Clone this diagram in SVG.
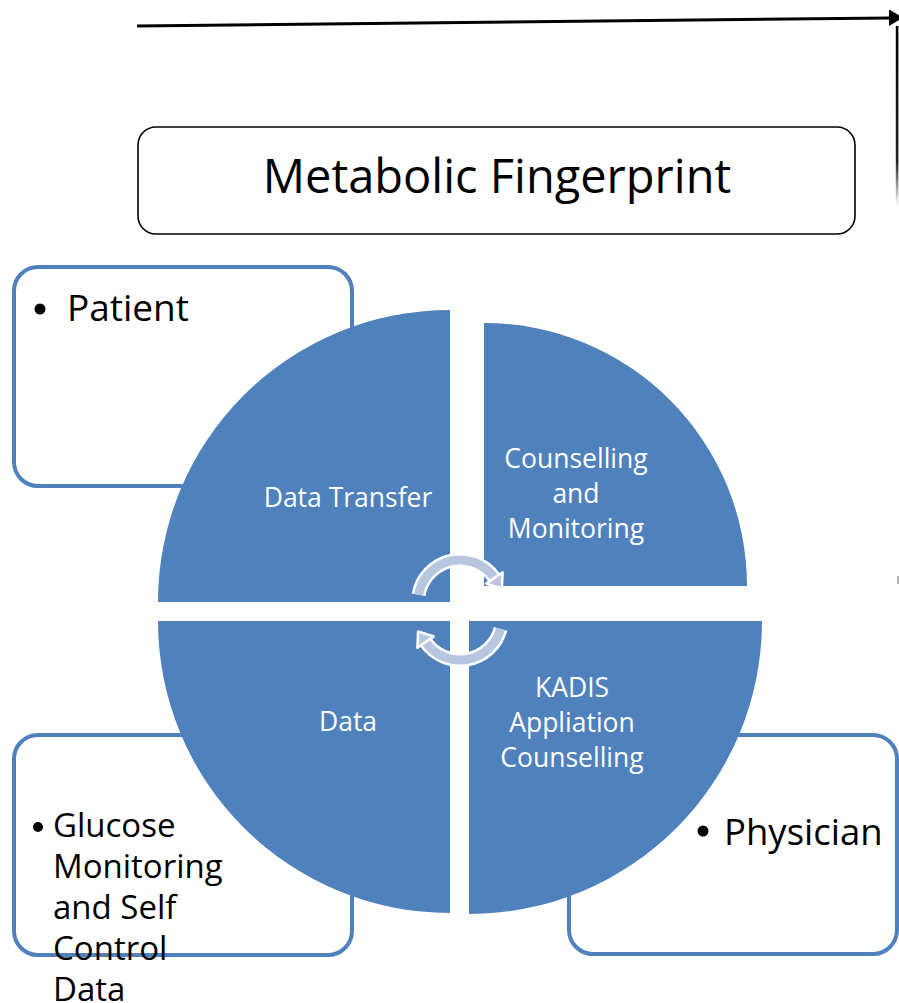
<svg xmlns="http://www.w3.org/2000/svg" width="899" height="1003" viewBox="0 0 899 1003">
  <defs>
    <style>
      .card { fill: #ffffff; stroke: #4f81bd; stroke-width: 4; }
      .title-box { fill: #ffffff; stroke: #000000; stroke-width: 1.6; }
      .quad { fill: #4f81bd; }
      .label { font-family: "Open Sans", "Liberation Sans", sans-serif; fill: #000000; }
      .inner { font-family: "Open Sans", "Liberation Sans", sans-serif; fill: #ffffff; font-size: 26.5px; text-anchor: middle; }
      .cycle-band { fill: none; stroke: #b8c6df; stroke-width: 9; }
      .cycle-halo { fill: none; stroke: #ffffff; stroke-width: 14; }
      .cycle-head { fill: #b8c6df; stroke: #ffffff; stroke-width: 2.5; stroke-linejoin: round; }
    </style>
    <linearGradient id="fadeDown" x1="0" y1="0" x2="0" y2="1">
      <stop offset="0" stop-color="#000000"/>
      <stop offset="0.75" stop-color="#222222"/>
      <stop offset="1" stop-color="#ffffff"/>
    </linearGradient>
  </defs>

  <!-- connectors -->
  <g id="connectors">
    <line x1="137" y1="26" x2="891" y2="18" stroke="#000000" stroke-width="3"/>
    <polygon points="889,9.5 903,17.5 889,26" fill="#000000"/>
    <rect x="895.8" y="26" width="2.6" height="180" fill="url(#fadeDown)"/>
    <line x1="898" y1="576" x2="898" y2="584" stroke="#999999" stroke-width="1.5"/>
  </g>

  <!-- title -->
  <g id="node-metabolic-fingerprint">
    <rect class="title-box" x="138" y="127" width="717" height="107" rx="18"/>
    <text class="label" x="497" y="193" font-size="47" text-anchor="middle">Metabolic Fingerprint</text>
  </g>

  <!-- side cards -->
  <g id="node-patient">
    <rect class="card" x="14" y="267" width="338" height="219" rx="24"/>
    <circle cx="40" cy="309" r="5.5" fill="#000000"/>
    <text class="label" x="67" y="321" font-size="37">Patient</text>
  </g>

  <g id="node-glucose">
    <rect class="card" x="14" y="735" width="338" height="220" rx="24"/>
  </g>

  <g id="node-physician">
    <rect class="card" x="569" y="735" width="328" height="219" rx="24"/>
    <circle cx="703" cy="831" r="5.5" fill="#000000"/>
    <text class="label" x="724" y="845" font-size="36.5">Physician</text>
  </g>

  <!-- cycle quadrants -->
  <g id="node-data-transfer">
    <path class="quad" d="M450,602 L158,602 A292,292 0 0 1 450,310 Z"/>
    <text class="inner" x="348" y="507">Data Transfer</text>
  </g>

  <g id="node-counselling-monitoring">
    <path class="quad" d="M484,586 L484,323 A263,263 0 0 1 747,586 Z"/>
    <text class="inner" x="576" y="468">Counselling</text>
    <text class="inner" x="576" y="503">and</text>
    <text class="inner" x="576" y="538">Monitoring</text>
  </g>

  <g id="node-kadis">
    <path class="quad" d="M469,621 L762,621 A293,293 0 0 1 469,914 Z"/>
    <text class="inner" x="572" y="697">KADIS</text>
    <text class="inner" x="572" y="732">Appliation</text>
    <text class="inner" x="572" y="767">Counselling</text>
  </g>

  <g id="node-data">
    <path class="quad" d="M450,621 L450,913 A292,292 0 0 1 158,621 Z"/>
    <text class="inner" x="348" y="731">Data</text>
  </g>

  <!-- circular arrows in the centre -->
  <g id="cycle-arrows">
    <path class="cycle-halo" d="M418.6,594.7 A42,42 0 0 1 494.4,577.9"/>
    <path class="cycle-halo" d="M500.6,628.9 A42,42 0 0 1 425.6,642.1"/>
    <path class="cycle-band" d="M418.6,594.7 A42,42 0 0 1 494.4,577.9"/>
    <polygon class="cycle-head" points="502.6,572.2 486.2,583.6 501.9,588.5"/>
    <path class="cycle-band" d="M500.6,628.9 A42,42 0 0 1 425.6,642.1"/>
    <polygon class="cycle-head" points="417.4,647.8 433.8,636.4 418.1,631.5"/>
  </g>

  <!-- glucose card text runs past the card edge -->
  <g id="node-glucose-text">
    <circle cx="38" cy="827" r="5" fill="#000000"/>
    <text class="label" x="53" y="837" font-size="33">Glucose</text>
    <text class="label" x="53" y="878" font-size="33">Monitoring</text>
    <text class="label" x="53" y="919" font-size="33">and Self</text>
    <text class="label" x="53" y="960" font-size="33">Control</text>
    <text class="label" x="53" y="1001" font-size="33">Data</text>
  </g>
</svg>
